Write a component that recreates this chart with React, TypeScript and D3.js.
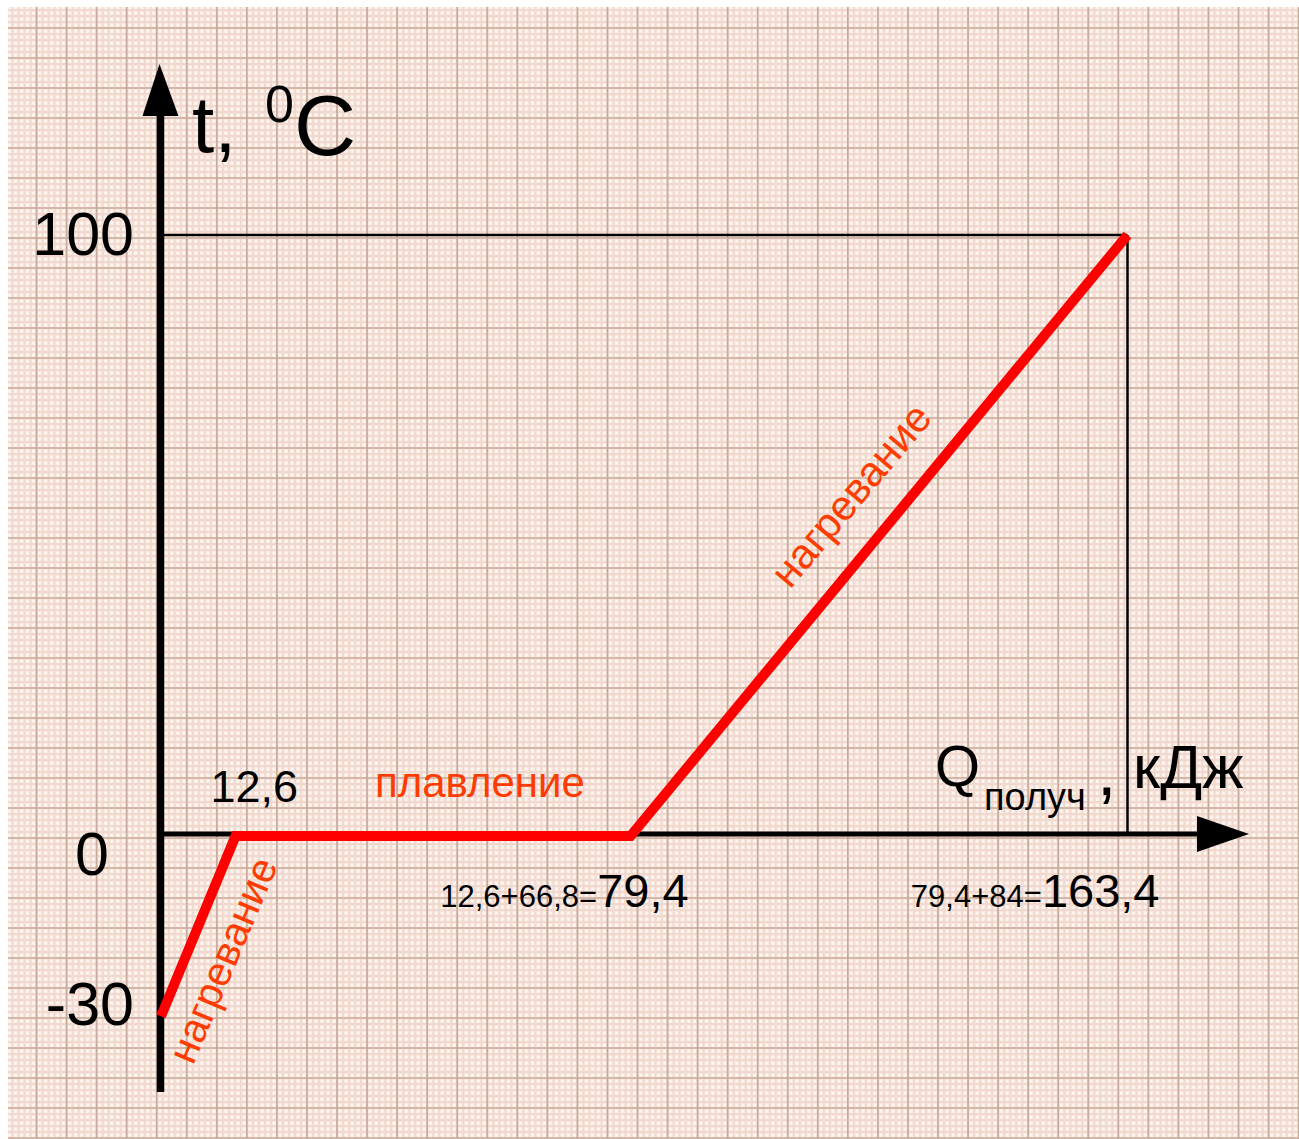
import React from "react";
import * as d3 from "d3";

// Data
const qValues = [0, 12.6, 79.4, 163.4]; // кДж
const tValues = [-30, 0, 0, 100]; // °C
const yTickValues = [100, 0, -30];
const yTickLabels = ["100", "0", "-30"];
const qLabelSmall = ["12,6+66,8=", "79,4+84="];
const qLabelBig = ["79,4", "163,4"];
const qLabelValues = [79.4, 163.4];
const firstQLabel = "12,6";
const segLabels = ["нагревание", "плавление", "нагревание"];

const W = 1299;
const H = 1139;
const FONT = "'Liberation Sans', Arial, Helvetica, sans-serif";
const RED = "#ff0000";
const ORANGE = "#ff3c00";

// layout tweaks for labels (pixels)
const yTickDx = [134, 109, 134];
const yTickDy = [20, 39, 9];
const qLabelDx = [58, 32];

export default function App() {
  const x = d3.scaleLinear().domain([0, 163.4]).range([161, 1127.5]);
  const y = d3.scaleLinear().domain([0, 100]).range([836, 235]);

  const line = d3
    .line<number>()
    .x((_, i) => x(qValues[i]))
    .y((_, i) => y(tValues[i]));

  const paperX0 = 8;
  const paperY0 = 7;
  const majorStepX = 30.05;
  const majorStepY = 30;
  const majorOffX = 36.5;
  const majorOffY = 58;
  const vLines = d3.range(-1, 45).map((k) => majorOffX + k * majorStepX).filter((v) => v > paperX0 && v < W);
  const hLines = d3.range(-2, 40).map((k) => majorOffY + k * majorStepY).filter((v) => v > paperY0 && v < H);

  const axisY = y(0) - 2;
  const axisX = 160.5;

  return (
    <svg
      width={W}
      height={H}
      style={{ position: "absolute", left: 0, top: 0 }}
      xmlns="http://www.w3.org/2000/svg"
    >
      <defs>
        <pattern
          id="fine"
          patternUnits="userSpaceOnUse"
          width={majorStepX / 5}
          height={majorStepY / 5}
          x={majorOffX}
          y={majorOffY}
        >
          <rect width={majorStepX / 5} height={majorStepY / 5} fill="#f2d9cf" />
          <rect x={1.3} y={1.3} width={3.6} height={3.6} fill="#fdf5ee" />
        </pattern>
      </defs>
      <rect x={0} y={0} width={W} height={H} fill="#ffffff" />
      <rect x={paperX0} y={paperY0} width={W - paperX0} height={H - paperY0} fill="url(#fine)" />
      <g stroke="#c9ab9d" strokeWidth={1.7}>
        {vLines.map((v, i) => (
          <line key={"v" + i} x1={v} x2={v} y1={paperY0} y2={H} />
        ))}
        {hLines.map((v, i) => (
          <line key={"h" + i} x1={paperX0} x2={W} y1={v} y2={v} />
        ))}
      </g>

      {/* reference lines at 100 */}
      <g stroke="#000" strokeWidth={2.5} fill="none">
        <line x1={axisX} x2={x(163.4)} y1={y(100)} y2={y(100)} />
        <line x1={x(163.4)} x2={x(163.4)} y1={y(100)} y2={axisY} />
      </g>

      {/* axes */}
      <line x1={axisX} x2={axisX} y1={112} y2={1092} stroke="#000" strokeWidth={7.5} />
      <polygon points={`${axisX - 18},116 ${axisX + 18},116 ${axisX - 1},64`} fill="#000" />
      <line x1={axisX - 3} x2={1200} y1={axisY} y2={axisY} stroke="#000" strokeWidth={5} />
      <polygon points={`1197,${axisY - 18} 1197,${axisY + 18} 1249,${axisY}`} fill="#000" />

      {/* data line */}
      <path
        d={line(tValues) || ""}
        fill="none"
        stroke={RED}
        strokeWidth={10}
        strokeLinejoin="miter"
        strokeLinecap="butt"
      />

      <g fontFamily={FONT} fill="#000">
        {/* y axis title */}
        <text x={192} y={152} fontSize={80}>t,</text>
        <text x={265} y={122} fontSize={52}>0</text>
        <text x={294} y={155} fontSize={86}>C</text>

        {/* y tick labels */}
        {yTickValues.map((v, i) => (
          <text
            key={"yt" + i}
            x={yTickDx[i]}
            y={y(v) + yTickDy[i]}
            fontSize={61}
            textAnchor="end"
          >
            {yTickLabels[i]}
          </text>
        ))}

        {/* x labels */}
        <text x={x(qValues[1]) - 25} y={802} fontSize={45}>{firstQLabel}</text>
        {qLabelValues.map((v, i) => (
          <text key={"xl" + i} x={x(v) + qLabelDx[i]} y={907} textAnchor="end">
            <tspan fontSize={31}>{qLabelSmall[i]}</tspan>
            <tspan fontSize={47}>{qLabelBig[i]}</tspan>
          </text>
        ))}

        {/* x axis title */}
        <text x={935} y={786} fontSize={58}>Q</text>
        <text x={984} y={810} fontSize={38}>получ</text>
        <text x={1097} y={795} fontSize={70}>,</text>
        <text x={1133} y={788} fontSize={62}>кДж</text>
      </g>

      {/* segment labels */}
      <g fontFamily={FONT} fill={ORANGE}>
        <text x={0} y={0} fontSize={41} transform="translate(193,1066) rotate(-67)">
          {segLabels[0]}
        </text>
        <text x={375} y={797} fontSize={42}>{segLabels[1]}</text>
        <text x={0} y={0} fontSize={42} transform="translate(790,590) rotate(-50)">
          {segLabels[2]}
        </text>
      </g>
    </svg>
  );
}
